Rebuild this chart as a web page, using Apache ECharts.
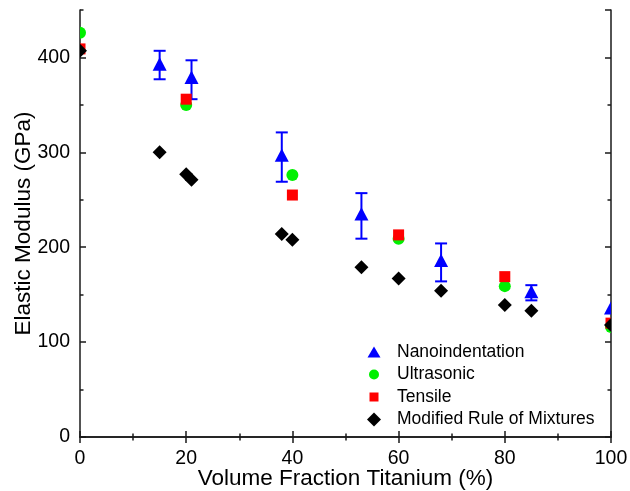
<!DOCTYPE html>
<html>
<head>
<meta charset="utf-8">
<script src="https://cdn.jsdelivr.net/npm/echarts@6/dist/echarts.min.js"></script>
<style>
  html, body { margin: 0; padding: 0; background: #fff; }
  #chart { width: 630px; height: 491px; }
</style>
</head>
<body>
<div id="chart"></div>
<script>
// data
const nanoX = [15, 21, 38, 53, 68, 85, 100];
const nanoY = [392, 378, 296, 234, 185, 152, 135];
const nanoHigh = [407, 397, 321, 257, 204, 160, 135];
const nanoLow = [377, 356, 269, 209, 164, 144, 135];

const ultraX = [0, 20, 40, 60, 80, 100];
const ultraY = [426, 350, 276, 209, 159, 116];

const tensileX = [0, 20, 40, 60, 80, 100];
const tensileY = [409, 356, 255, 213, 169, 120];

const mixX = [0, 15, 20, 21, 38, 40, 53, 60, 68, 80, 85, 100];
const mixY = [407, 300, 277, 271, 214, 208, 179, 167, 154, 139, 133, 118];

const FONT = 'Liberation Sans, Arial, sans-serif';
const AX = '#1a1a1a';
const BLUE = '#0000ff', GREEN = '#00f000', RED = '#ff0000', BLACK = '#000000';

// marker shapes around a pixel point (sizes only, position comes from api.coord)
function marker(kind, p, s, color) {
  const [x, y] = p;
  const h = s / 2;
  const style = { fill: color };
  if (kind === 'circle') return { type: 'circle', shape: { cx: x, cy: y, r: h }, style };
  if (kind === 'rect') return { type: 'rect', shape: { x: x - h, y: y - h, width: s, height: s }, style };
  if (kind === 'triangle') return { type: 'polygon', shape: { points: [[x, y - s * 0.55], [x + h, y + s * 0.4], [x - h, y + s * 0.4]] }, style };
  return { type: 'polygon', shape: { points: [[x, y - h], [x + h, y], [x, y + h], [x - h, y]] }, style };
}

function pointSeries(name, kind, size, color, xs, ys) {
  return {
    name, type: 'custom', clip: true, z: 3,
    itemStyle: { color },
    data: xs.map((x, i) => [x, ys[i]]),
    renderItem: (params, api) => marker(kind, api.coord([api.value(0), api.value(1)]), size, color),
  };
}

const bare = (extra) => Object.assign({
  type: 'value',
  axisLine: { show: false },
  axisTick: { show: true, inside: true, length: 3.5, lineStyle: { color: AX, width: 1.5 } },
  axisLabel: { show: false },
  splitLine: { show: false },
}, extra);

const chart = echarts.init(document.getElementById('chart'));

chart.setOption({
  animation: false,
  grid: { left: 80, right: 19, top: 10, bottom: 54, containLabel: false, outerBoundsMode: 'none' },
  legend: {
    left: 362,
    top: 338,
    orient: 'vertical',
    itemWidth: 14,
    itemHeight: 14,
    itemGap: 4.5,
    textStyle: { fontFamily: FONT, fontSize: 17.5, color: '#000', padding: [0, 0, 0, 11] },
    data: [
      { name: 'Nanoindentation', icon: 'path://M0,0M14,14M0.5,12.5L13.5,12.5L7,1.5Z' },
      { name: 'Ultrasonic', icon: 'path://M0,0M14,14M2,7A5,5,0,1,1,12,7A5,5,0,1,1,2,7Z' },
      { name: 'Tensile', icon: 'path://M0,0M14,14M2.5,2.5L11.5,2.5L11.5,11.5L2.5,11.5Z' },
      { name: 'Modified Rule of Mixtures', icon: 'path://M7,0L14,7L7,14L0,7Z' },
    ],
  },
  xAxis: [
    {
      type: 'value', min: 0, max: 100, interval: 20,
      name: 'Volume Fraction Titanium (%)',
      nameLocation: 'middle', nameGap: 30, nameMoveOverlap: false,
      nameTextStyle: { fontFamily: FONT, fontSize: 22.5, color: '#000' },
      axisLine: { show: true, lineStyle: { color: AX, width: 1.5 } },
      axisTick: { inside: true, length: 6, lineStyle: { color: AX, width: 1.5 } },
      minorTick: { show: true, splitNumber: 2, length: 3.5, lineStyle: { color: AX, width: 1.5 } },
      axisLabel: { fontFamily: FONT, fontSize: 19.5, color: '#000', margin: 12 },
      splitLine: { show: false },
    },
    bare({
      position: 'top', min: 0, max: 100, interval: 20,
      axisLine: { show: true, lineStyle: { color: AX, width: 1.5 } },
      axisTick: { show: true, inside: true, length: 6, lineStyle: { color: AX, width: 1.5 } },
      minorTick: { show: true, splitNumber: 2, length: 3.5, lineStyle: { color: AX, width: 1.5 } },
    }),
  ],
  yAxis: [
    {
      type: 'value', min: 0, max: 450, interval: 100,
      name: 'Elastic Modulus (GPa)',
      nameLocation: 'middle', nameGap: 45, nameMoveOverlap: false,
      nameTextStyle: { fontFamily: FONT, fontSize: 22.5, color: '#000' },
      axisLine: { show: true, lineStyle: { color: AX, width: 1.5 } },
      axisTick: { inside: true, length: 6, lineStyle: { color: AX, width: 1.5 } },
      axisLabel: { fontFamily: FONT, fontSize: 19.5, color: '#000', margin: 10, showMaxLabel: false },
      splitLine: { show: false },
    },
    bare({ position: 'left', min: 0, max: 450, interval: 50 }),
    bare({
      position: 'right', min: 0, max: 450, interval: 100,
      axisLine: { show: true, lineStyle: { color: AX, width: 1.5 } },
      axisTick: { show: true, inside: true, length: 6, lineStyle: { color: AX, width: 1.5 } },
    }),
    bare({ position: 'right', min: 0, max: 450, interval: 50 }),
  ],
  series: [
    {
      name: 'Nanoindentation',
      type: 'custom', clip: true, z: 3,
      itemStyle: { color: BLUE },
      data: nanoX.map((x, i) => [x, nanoY[i], nanoLow[i], nanoHigh[i]]),
      renderItem: (params, api) => {
        const c = api.coord([api.value(0), api.value(1)]);
        const lo = api.coord([api.value(0), api.value(2)]);
        const hi = api.coord([api.value(0), api.value(3)]);
        const w = 6;
        const style = { stroke: BLUE, lineWidth: 2 };
        const children = [];
        if (Math.abs(hi[1] - lo[1]) > 1) {
          children.push(
            { type: 'line', shape: { x1: lo[0], y1: lo[1], x2: hi[0], y2: hi[1] }, style },
            { type: 'line', shape: { x1: lo[0] - w, y1: lo[1], x2: lo[0] + w, y2: lo[1] }, style },
            { type: 'line', shape: { x1: hi[0] - w, y1: hi[1], x2: hi[0] + w, y2: hi[1] }, style }
          );
        }
        children.push(marker('triangle', c, 14, BLUE));
        return { type: 'group', children };
      },
    },
    pointSeries('Ultrasonic', 'circle', 12, GREEN, ultraX, ultraY),
    pointSeries('Tensile', 'rect', 11, RED, tensileX, tensileY),
    pointSeries('Modified Rule of Mixtures', 'diamond', 14, BLACK, mixX, mixY),
  ],
});
</script>
</body>
</html>
